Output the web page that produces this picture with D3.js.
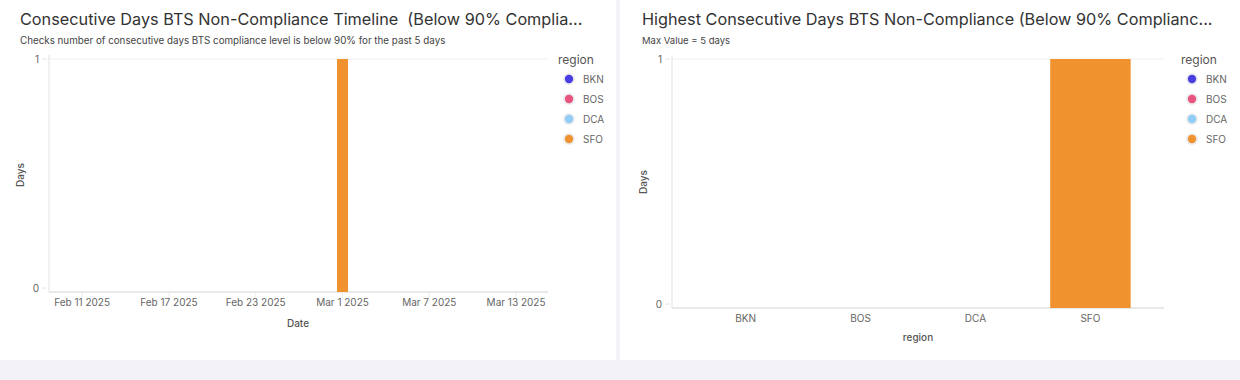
<!DOCTYPE html>
<html>
<head>
<meta charset="utf-8">
<script src="https://cdn.jsdelivr.net/npm/d3@7"></script>
<style>
	body { margin: 0; background: #f3f3f7; }
	svg { display: block; font-family: Inter, "Noto Sans", sans-serif; }
	.tick-label { font-size: 10px; fill: #666; }
	.axis-title { font-size: 10px; fill: #555; font-weight: 500; }
	.title { white-space: pre; }
</style>
</head>
<body>
<svg id="chart" width="1240" height="380"></svg>
<script>

// legend / categories
const regions = [ "BKN", "BOS", "DCA", "SFO" ] ;
const regionColors = [ "#4a3de2", "#e9547f", "#90cdf7", "#f0932f" ] ;

// timeline chart (left)
const timelineDomain = [ "2025-02-08T17:00", "2025-03-15T05:00" ] ;
const timelineTicks = [ "2025-02-11", "2025-02-17", "2025-02-23", "2025-03-01", "2025-03-07", "2025-03-13" ] ;
const timelineDates = [ "2025-03-01" ] ;
const timelineRegions = [ "SFO" ] ;
const timelineDays = [ 1 ] ;

// highest chart (right)
const highestDays = [ 0, 0, 0, 1 ] ;

const yTicks = [ 0, 1 ] ;

const svg = d3.select( "#chart" ) ;
const color = d3.scaleOrdinal().domain( regions ).range( regionColors ) ;
const parseDate = d3.timeParse( "%Y-%m-%dT%H:%M" ) ;
const parseDay = d3.timeParse( "%Y-%m-%d" ) ;
const fmtDay = d3.timeFormat( "%b %-d %Y" ) ;

// panels
svg.append( "rect" ).attr( "x", 0 ).attr( "y", 0 ).attr( "width", 616 ).attr( "height", 360 ).attr( "fill", "#fff" ) ;
svg.append( "rect" ).attr( "x", 620 ).attr( "y", 0 ).attr( "width", 620 ).attr( "height", 360 ).attr( "fill", "#fff" ) ;


function header( g, x, title, sub, subSize ) {
	g.append( "text" )
		.attr( "class", "title" )
		.attr( "x", x ).attr( "y", 25 )
		.style( "font-size", "16.25px" ).attr( "fill", "#333" )
		.text( title ) ;
	g.append( "text" )
		.attr( "x", x ).attr( "y", 44 )
		.style( "font-size", subSize ).attr( "fill", "#444" )
		.text( sub ) ;
}

function legend( g, x, y ) {
	g.append( "text" )
		.attr( "x", x ).attr( "y", y + 4 )
		.style( "font-size", "12px" ).attr( "fill", "#555" )
		.text( "region" ) ;
	const items = g.selectAll( "g.leg" )
		.data( regions )
		.enter().append( "g" )
		.attr( "class", "leg" )
		.attr( "transform", function(d,i) { return "translate(" + (x + 11) + "," + (y + 19 + i*20) + ")" ; } ) ;
	items.append( "circle" ).attr( "r", 6 ).attr( "fill", "#ececef" ) ;
	items.append( "circle" ).attr( "r", 4.2 ).attr( "fill", function(d) { return color(d) ; } ) ;
	items.append( "text" )
		.attr( "x", 14 ).attr( "y", 3.5 )
		.attr( "class", "tick-label" )
		.text( function(d) { return d ; } ) ;
}

function yAxis( g, y, x0, x1, base ) {
	// gridline at top, axis line at bottom
	g.selectAll( "line.grid" )
		.data( yTicks.filter( v => v > 0 ) )
		.enter().append( "line" )
		.attr( "x1", x0 ).attr( "x2", x1 )
		.attr( "y1", d => y(d) ).attr( "y2", d => y(d) )
		.attr( "stroke", "#f0f0f0" ) ;
	g.append( "line" )
		.attr( "x1", x0 ).attr( "x2", x0 ).attr( "y1", y(1) - 4 ).attr( "y2", base )
		.attr( "stroke", "#e2e2e2" ) ;
	g.append( "line" )
		.attr( "x1", x0 ).attr( "x2", x1 ).attr( "y1", base ).attr( "y2", base )
		.attr( "stroke", "#e2e2e2" ).attr( "stroke-width", 1.5 ) ;
	const t = g.selectAll( "g.ytick" )
		.data( yTicks )
		.enter().append( "g" )
		.attr( "transform", d => "translate(0," + (d === 0 ? base - 4 : y(d)) + ")" ) ;
	t.append( "line" ).attr( "x1", x0 - 7 ).attr( "x2", x0 - 2 ).attr( "stroke", "#e6e6e6" ) ;
	t.append( "text" )
		.attr( "class", "tick-label" )
		.attr( "x", x0 - 10 ).attr( "dy", "0.35em" )
		.attr( "text-anchor", "end" )
		.text( d => d ) ;
}

function axisTitle( g, x, y, rot, txt ) {
	g.append( "text" )
		.attr( "class", "axis-title" )
		.attr( "text-anchor", "middle" )
		.attr( "transform", "translate(" + x + "," + y + ")" + (rot ? " rotate(-90)" : "") )
		.text( txt ) ;
}

/*
	left - timeline of consecutive days
*/
function drawTimeline() {
	const g = svg.append( "g" ) ;
	header( g, 20, "Consecutive Days BTS Non-Compliance Timeline  (Below 90% Complia...",
		"Checks number of consecutive days BTS compliance level is below 90% for the past 5 days", "9.8px" ) ;

	const x = d3.scaleTime()
		.domain( timelineDomain.map( parseDate ) )
		.range( [ 49, 548 ] ) ;
	const base = 292 ;
	const y = d3.scaleLinear().domain( [ 0, 1 ] ).range( [ base, 59 ] ) ;

	yAxis( g, y, 49, 548, base ) ;

	const xt = g.selectAll( "g.xtick" )
		.data( timelineTicks.map( parseDay ) )
		.enter().append( "g" )
		.attr( "transform", d => "translate(" + x(d) + "," + base + ")" ) ;
	xt.append( "line" ).attr( "y1", 1 ).attr( "y2", 6 ).attr( "stroke", "#ececec" ) ;
	xt.append( "text" )
		.attr( "class", "tick-label" )
		.attr( "y", 14 ).attr( "text-anchor", "middle" )
		.text( fmtDay ) ;

	const recs = timelineDates.map( function(d,i) {
		return { date: parseDay(d), region: timelineRegions[i], days: timelineDays[i] } ;
	}) ;
	const dayW = x( d3.timeDay.offset( parseDay( timelineTicks[0] ), 1 ) ) - x( parseDay( timelineTicks[0] ) ) ;
	g.selectAll( "rect.bar" )
		.data( recs )
		.enter().append( "rect" )
		.attr( "class", "bar" )
		.attr( "x", d => x(d.date) - dayW*0.38 )
		.attr( "width", dayW*0.76 )
		.attr( "y", d => y(d.days) )
		.attr( "height", d => base - y(d.days) )
		.attr( "fill", d => color(d.region) ) ;

	axisTitle( g, 24, 175, true, "Days" ) ;
	axisTitle( g, 298, 327, false, "Date" ) ;
	legend( g, 558, 60 ) ;
}

/*
	right - highest consecutive days per region
*/
function drawHighest() {
	const g = svg.append( "g" ) ;
	header( g, 642, "Highest Consecutive Days BTS Non-Compliance (Below 90% Complianc...",
		"Max Value = 5 days", "9.5px" ) ;

	const x = d3.scaleBand()
		.domain( regions )
		.range( [ 672, 1164 ] )
		.paddingInner( 0.3 )
		.paddingOuter( 0.29 ) ;
	const base = 308 ;
	const y = d3.scaleLinear().domain( [ 0, 1 ] ).range( [ base, 59 ] ) ;

	yAxis( g, y, 672, 1164, base ) ;

	const xt = g.selectAll( "g.xtick" )
		.data( regions )
		.enter().append( "g" )
		.attr( "transform", d => "translate(" + (x(d) + x.bandwidth()/2) + "," + base + ")" ) ;
	xt.append( "text" )
		.attr( "class", "tick-label" )
		.attr( "y", 14 ).attr( "text-anchor", "middle" )
		.text( d => d ) ;

	g.selectAll( "rect.bar" )
		.data( regions.map( (r,i) => ({ region: r, days: highestDays[i] }) ) )
		.enter().append( "rect" )
		.attr( "class", "bar" )
		.attr( "x", d => x(d.region) )
		.attr( "width", x.bandwidth() )
		.attr( "y", d => y(d.days) )
		.attr( "height", d => base - y(d.days) )
		.attr( "fill", d => color(d.region) ) ;

	axisTitle( g, 647, 182, true, "Days" ) ;
	axisTitle( g, 918, 341, false, "region" ) ;
	legend( g, 1181, 60 ) ;
}

drawTimeline() ;
drawHighest() ;

</script>
</body>
</html>
